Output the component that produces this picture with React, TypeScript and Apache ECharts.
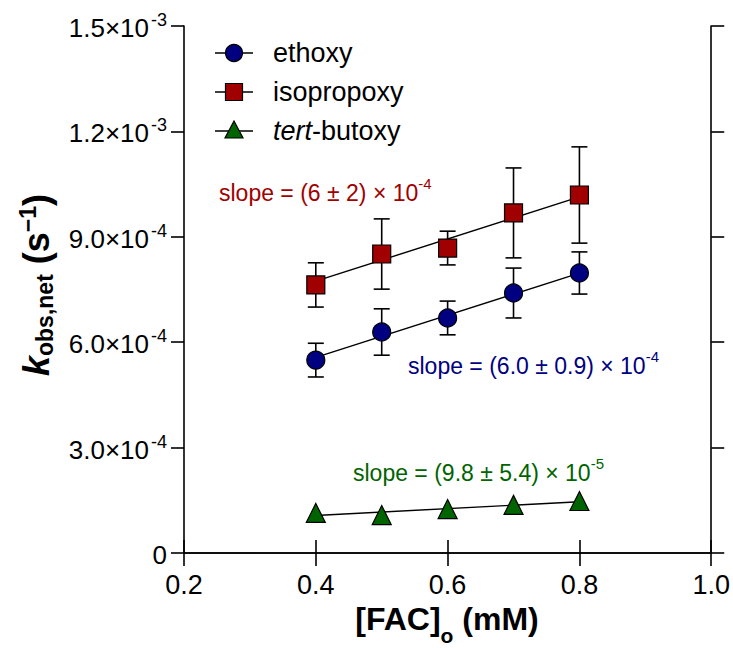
import React, { useEffect, useRef } from "react";
import * as echarts from "echarts";

// ---- data ----
const fac = [0.4, 0.5, 0.6, 0.7, 0.8];
const ethoxyK = [5.49e-4, 6.29e-4, 6.69e-4, 7.4e-4, 7.97e-4];
const ethoxyErr = [4.8e-5, 6.6e-5, 4.8e-5, 7.1e-5, 6.0e-5];
const isoK = [7.63e-4, 8.51e-4, 8.68e-4, 9.68e-4, 1.019e-3];
const isoErr = [6.3e-5, 1.0e-4, 4.8e-5, 1.28e-4, 1.37e-4];
const tertK = [1.14e-4, 1.08e-4, 1.25e-4, 1.37e-4, 1.48e-4];
const fitSlopes = [6.0e-4, 6.0e-4, 9.8e-5];
const seriesNames = ["ethoxy", "isopropoxy", "tert-butoxy"];
const yTickLabels = [
  ["0", ""],
  ["3.0×10", "-4"],
  ["6.0×10", "-4"],
  ["9.0×10", "-4"],
  ["1.2×10", "-3"],
  ["1.5×10", "-3"],
];
const xTickLabels = ["0.2", "0.4", "0.6", "0.8", "1.0"];

const FONT = "'Liberation Sans', Arial, sans-serif";
const BLUE = "#000080";
const RED = "#a00000";
const GREEN = "#006400";

function fitLine(ks: number[], slope: number) {
  const mx = fac.reduce((a, b) => a + b, 0) / fac.length;
  const my = ks.reduce((a, b) => a + b, 0) / ks.length;
  const x0 = fac[0];
  const x1 = fac[fac.length - 1];
  return [
    [x0, my + slope * (x0 - mx)],
    [x1, my + slope * (x1 - mx)],
  ];
}

function errData(ks: number[], errs: number[]) {
  return fac.map((x, i) => [x, ks[i], errs[i]]);
}

const errRender = (params: any, api: any) => {
  const x = api.value(0);
  const y = api.value(1);
  const e = api.value(2);
  const top = api.coord([x, y + e]);
  const bot = api.coord([x, y - e]);
  const hw = 8;
  const st = { stroke: "#000", lineWidth: 1.6 };
  return {
    type: "group",
    children: [
      { type: "line", shape: { x1: top[0], y1: top[1], x2: bot[0], y2: bot[1] }, style: st },
      { type: "line", shape: { x1: top[0] - hw, y1: top[1], x2: top[0] + hw, y2: top[1] }, style: st },
      { type: "line", shape: { x1: bot[0] - hw, y1: bot[1], x2: bot[0] + hw, y2: bot[1] }, style: st },
    ],
  };
};

export default function App() {
  const ref = useRef<HTMLDivElement>(null);
  useEffect(() => {
    if (!ref.current) return;
    const chart = echarts.init(ref.current, undefined, { renderer: "svg" });
    const axisLine = { show: true, lineStyle: { color: "#000", width: 1.6 } };
    const tick = { show: true, inside: false, length: 13, lineStyle: { color: "#000", width: 1.6 } };
    const legendY = [53, 92, 131];
    const legendSymbols: any[] = [
      { type: "circle", shape: { cx: 234, cy: legendY[0], r: 8.5 }, style: { fill: BLUE, stroke: "#000", lineWidth: 1.2 } },
      { type: "rect", shape: { x: 225.5, y: legendY[1] - 8.5, width: 17, height: 17 }, style: { fill: RED, stroke: "#000", lineWidth: 1.2 } },
      {
        type: "polygon",
        shape: { points: [[234, legendY[2] - 10], [243, legendY[2] + 7], [225, legendY[2] + 7]] },
        style: { fill: GREEN, stroke: "#000", lineWidth: 1.2 },
      },
    ];
    const legendGraphics: any[] = [];
    legendY.forEach((y, i) => {
      legendGraphics.push({ type: "line", shape: { x1: 215, y1: y, x2: 253, y2: y }, style: { stroke: "#000", lineWidth: 1.4 } });
      legendGraphics.push(legendSymbols[i]);
      const name = seriesNames[i];
      legendGraphics.push({
        type: "text",
        x: 273,
        y,
        style: {
          text: i === 2 ? "{i|tert}{n|-butoxy}" : `{n|${name}}`,
          verticalAlign: "middle",
          rich: {
            n: { fontSize: 27, fontFamily: FONT, fill: "#000" },
            i: { fontSize: 27, fontFamily: FONT, fontStyle: "italic", fill: "#000" },
          },
        },
      });
    });

    const slopeText = (x: number, y: number, main: string, exp: string, color: string) => ({
      type: "text",
      x,
      y,
      style: {
        text: `{m|${main}}{e|${exp}}`,
        verticalAlign: "middle",
        rich: {
          m: { fontSize: 23, fontFamily: FONT, fill: color, lineHeight: 28, verticalAlign: "bottom" },
          e: { fontSize: 15, fontFamily: FONT, fill: color, lineHeight: 28, verticalAlign: "top" },
        },
      },
    });

    const option: any = {
      animation: false,
      backgroundColor: "#fff",
      grid: { left: 184, right: 20, top: 26, bottom: 95, containLabel: false },
      xAxis: [
        {
          type: "value",
          min: 0.2,
          max: 1.0,
          interval: 0.2,
          position: "bottom",
          axisLine,
          axisTick: tick,
          splitLine: { show: false },
          axisLabel: {
            margin: 18,
            fontSize: 27,
            fontFamily: FONT,
            color: "#000",
            formatter: (v: number) => xTickLabels[Math.round((v - 0.2) / 0.2)] ?? "",
          },
        },
        {
          type: "value",
          min: 0.2,
          max: 1.0,
          interval: 0.2,
          position: "top",
          axisLine,
          axisTick: tick,
          splitLine: { show: false },
          axisLabel: { show: false },
        },
      ],
      yAxis: [
        {
          type: "value",
          min: 0,
          max: 1.5e-3,
          interval: 3e-4,
          position: "left",
          axisLine,
          axisTick: tick,
          splitLine: { show: false },
          axisLabel: {
            margin: 17,
            formatter: (v: number) => {
              const l = yTickLabels[Math.round(v / 3e-4)];
              if (!l) return "";
              return l[1] ? `{m|${l[0]}}{e|${l[1]}}` : `{m|${l[0]}}`;
            },
            rich: {
              m: { fontSize: 26, fontFamily: FONT, color: "#000", lineHeight: 30, verticalAlign: "bottom" },
              e: { fontSize: 18, fontFamily: FONT, color: "#000", lineHeight: 30, verticalAlign: "top", padding: [0, 0, 0, 2] },
            },
          },
        },
        {
          type: "value",
          min: 0,
          max: 1.5e-3,
          interval: 3e-4,
          position: "right",
          axisLine,
          axisTick: tick,
          splitLine: { show: false },
          axisLabel: { show: false },
        },
      ],
      series: [
        { type: "line", data: fitLine(ethoxyK, fitSlopes[0]), symbol: "none", lineStyle: { color: "#000", width: 1.4 }, z: 1 },
        { type: "line", data: fitLine(isoK, fitSlopes[1]), symbol: "none", lineStyle: { color: "#000", width: 1.4 }, z: 1 },
        { type: "line", data: fitLine(tertK, fitSlopes[2]), symbol: "none", lineStyle: { color: "#000", width: 1.4 }, z: 1 },
        { type: "custom", renderItem: errRender, data: errData(ethoxyK, ethoxyErr), encode: { x: 0, y: 1 }, z: 2 },
        { type: "custom", renderItem: errRender, data: errData(isoK, isoErr), encode: { x: 0, y: 1 }, z: 2 },
        {
          name: seriesNames[0],
          type: "scatter",
          data: fac.map((x, i) => [x, ethoxyK[i]]),
          symbol: "circle",
          symbolSize: 18,
          itemStyle: { color: BLUE, borderColor: "#000", borderWidth: 1.2, opacity: 1 },
          z: 3,
        },
        {
          name: seriesNames[1],
          type: "scatter",
          data: fac.map((x, i) => [x, isoK[i]]),
          symbol: "rect",
          symbolSize: 18,
          itemStyle: { color: RED, borderColor: "#000", borderWidth: 1.2, opacity: 1 },
          z: 3,
        },
        {
          name: seriesNames[2],
          type: "scatter",
          data: fac.map((x, i) => [x, tertK[i]]),
          symbol: "triangle",
          symbolSize: 19,
          itemStyle: { color: GREEN, borderColor: "#000", borderWidth: 1.2, opacity: 1 },
          z: 3,
        },
      ],
      graphic: [
        ...legendGraphics,
        slopeText(219, 190, "slope = (6 ± 2) × 10", "-4", RED),
        slopeText(408, 363, "slope = (6.0 ± 0.9) × 10", "-4", BLUE),
        slopeText(353, 470, "slope = (9.8 ± 5.4) × 10", "-5", GREEN),
        {
          type: "text",
          x: 447,
          y: 621,
          style: {
            text: "{b|[FAC]}{s|o}{b| (mM)}",
            align: "center",
            verticalAlign: "middle",
            rich: {
              b: { fontSize: 32, fontWeight: "bold", fontFamily: FONT, fill: "#000", lineHeight: 36, verticalAlign: "top" },
              s: { fontSize: 21, fontWeight: "bold", fontFamily: FONT, fill: "#000", lineHeight: 36, verticalAlign: "bottom", padding: [0, 0, -7, 0] },
            },
          },
        },
        {
          type: "text",
          x: 36,
          y: 285,
          rotation: Math.PI / 2,
          style: {
            text: "{k|k}{s|obs,net}{b| (s}{e|−1}{b|)}",
            align: "center",
            verticalAlign: "middle",
            rich: {
              k: { fontSize: 36, fontWeight: "bold", fontStyle: "italic", fontFamily: FONT, fill: "#000", lineHeight: 40, verticalAlign: "middle" },
              b: { fontSize: 36, fontWeight: "bold", fontFamily: FONT, fill: "#000", lineHeight: 40, verticalAlign: "middle" },
              s: { fontSize: 23, fontWeight: "bold", fontFamily: FONT, fill: "#000", lineHeight: 40, verticalAlign: "bottom" },
              e: { fontSize: 23, fontWeight: "bold", fontFamily: FONT, fill: "#000", lineHeight: 40, verticalAlign: "top" },
            },
          },
        },
      ],
    };
    chart.setOption(option);
    return () => chart.dispose();
  }, []);
  return <div ref={ref} style={{ position: "fixed", left: 0, top: 0, width: 733, height: 648 }} />;
}
